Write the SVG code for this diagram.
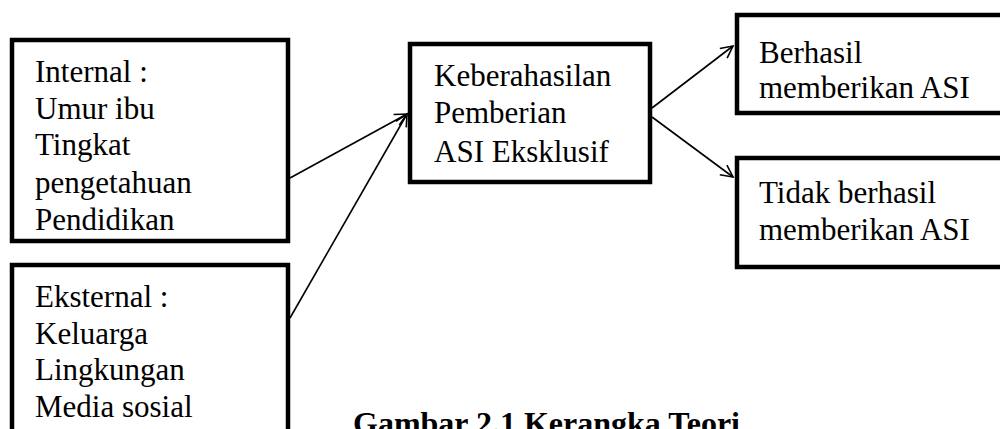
<svg xmlns="http://www.w3.org/2000/svg" width="1000" height="429" viewBox="0 0 1000 429">
<defs>
<marker id="ah" markerUnits="userSpaceOnUse" markerWidth="16" markerHeight="16" refX="13" refY="7" orient="auto">
<path d="M1,1 L13,7 L1,13" fill="none" stroke="#000" stroke-width="1.6"/>
</marker>
</defs>
<style>
.box{fill:#fff;stroke:#000;stroke-width:4.5}
.t{font-family:"Liberation Serif","Times New Roman",serif;font-size:31px;fill:#000}
.cap{font-family:"Liberation Serif","Times New Roman",serif;font-size:32px;font-weight:bold;fill:#000}
.c{fill:none;stroke:#000;stroke-width:1.6}
</style>
<g id="connectors">
<line class="c" x1="290" y1="178" x2="407" y2="114" marker-end="url(#ah)"/>
<line class="c" x1="290" y1="318" x2="407" y2="114" marker-end="url(#ah)"/>
<line class="c" x1="652" y1="108" x2="733" y2="46" marker-end="url(#ah)"/>
<line class="c" x1="652" y1="117" x2="733" y2="177" marker-end="url(#ah)"/>
</g>
<g id="internal">
<rect class="box" x="12" y="40" width="276" height="201"/>
<text class="t" x="35" y="82">Internal :</text>
<text class="t" x="35" y="119">Umur ibu</text>
<text class="t" x="35" y="155">Tingkat</text>
<text class="t" x="35" y="193">pengetahuan</text>
<text class="t" x="35" y="230">Pendidikan</text>
</g>
<g id="eksternal">
<rect class="box" x="12" y="265" width="276" height="200"/>
<text class="t" x="35" y="307">Eksternal :</text>
<text class="t" x="35" y="344">Keluarga</text>
<text class="t" x="35" y="380">Lingkungan</text>
<text class="t" x="35" y="417">Media sosial</text>
</g>
<g id="keberhasilan">
<rect class="box" x="410" y="44" width="240" height="138"/>
<text class="t" x="434" y="86">Keberahasilan</text>
<text class="t" x="434" y="123">Pemberian</text>
<text class="t" x="434" y="162">ASI Eksklusif</text>
</g>
<g id="berhasil">
<rect class="box" x="737" y="15" width="280" height="98"/>
<text class="t" x="759" y="63">Berhasil</text>
<text class="t" x="759" y="98">memberikan ASI</text>
</g>
<g id="tidak-berhasil">
<rect class="box" x="737" y="158" width="280" height="109"/>
<text class="t" x="759" y="203">Tidak berhasil</text>
<text class="t" x="759" y="240">memberikan ASI</text>
</g>
<g id="caption">
<text class="cap" x="353" y="434">Gambar 2.1 Kerangka Teori</text>
</g>
</svg>
